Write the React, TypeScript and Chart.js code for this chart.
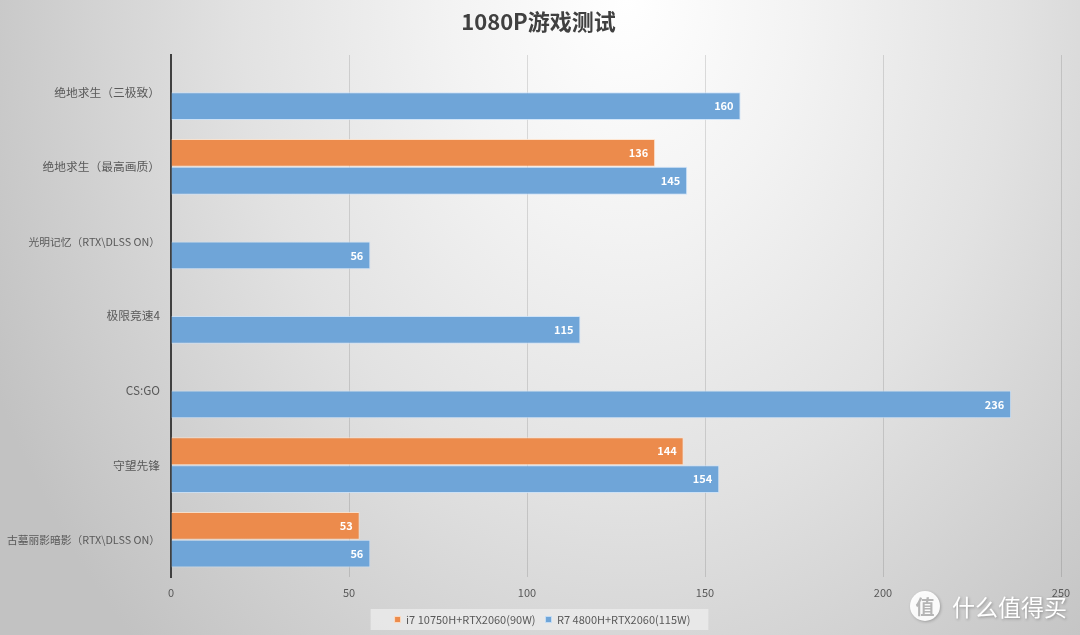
import React, { useEffect, useRef } from 'react';
import { Chart, registerables } from 'chart.js';

Chart.register(...registerables);

const title = '1080P游戏测试';
const categories = [
  '绝地求生（三极致）',
  '绝地求生（最高画质）',
  '光明记忆（RTX\\DLSS ON）',
  '极限竞速4',
  'CS:GO',
  '守望先锋',
  '古墓丽影暗影（RTX\\DLSS ON）',
];
const seriesNames = ['i7 10750H+RTX2060(90W)', 'R7 4800H+RTX2060(115W)'];
const intelValues: (number | null)[] = [null, 136, null, null, null, 144, 53];
const amdValues: (number | null)[] = [160, 145, 56, 115, 236, 154, 56];
const xTickValues = [0, 50, 100, 150, 200, 250];
const watermarkText = '什么值得买';

const FONT = '"Noto Sans CJK SC", "Noto Sans", sans-serif';

const shiftPlugin = {
  id: 'shiftBoxes',
  afterLayout(chart: any) {
    if (chart.titleBlock) {
      chart.titleBlock.left += 16;
    }
    if (chart.legend) {
      chart.legend.left += 12;
      chart.legend.right += 12;
    }
  },
};

const dataLabelPlugin = {
  id: 'dataLabels',
  afterDatasetsDraw(chart: any) {
    const ctx = chart.ctx;
    ctx.save();
    ctx.font = `bold 11px ${FONT}`;
    ctx.fillStyle = '#ffffff';
    ctx.textAlign = 'right';
    ctx.textBaseline = 'middle';
    chart.data.datasets.forEach((ds: any, di: number) => {
      const meta = chart.getDatasetMeta(di);
      meta.data.forEach((bar: any, i: number) => {
        const v = ds.data[i];
        if (v == null) return;
        ctx.fillText(String(v), bar.x - 7, bar.y);
      });
    });
    ctx.restore();
  },
};

const legendBgPlugin = {
  id: 'legendBg',
  beforeDraw(chart: any) {
    const lg = chart.legend;
    if (!lg || !lg.legendHitBoxes || !lg.legendHitBoxes.length) return;
    const hb = lg.legendHitBoxes;
    const first = hb[0];
    const last = hb[hb.length - 1];
    const left = first.left - 24;
    const right = last.left + last.width + 18;
    const cy = first.top + first.height / 2;
    const ctx = chart.ctx;
    ctx.save();
    ctx.fillStyle = 'rgba(240,240,240,0.7)';
    ctx.fillRect(left, cy - 10.5, right - left, 21);
    ctx.restore();
  },
};

const watermarkPlugin = {
  id: 'watermark',
  afterDraw(chart: any) {
    const ctx = chart.ctx;
    ctx.save();
    ctx.shadowColor = 'rgba(0,0,0,0.25)';
    ctx.shadowBlur = 3;
    ctx.shadowOffsetX = 1;
    ctx.shadowOffsetY = 1;
    ctx.fillStyle = 'rgba(255,255,255,0.95)';
    ctx.beginPath();
    ctx.arc(925, 606, 15, 0, Math.PI * 2);
    ctx.fill();
    ctx.shadowColor = 'transparent';
    ctx.fillStyle = '#b5b5b5';
    ctx.font = `bold 19px ${FONT}`;
    ctx.textAlign = 'center';
    ctx.textBaseline = 'middle';
    ctx.fillText('值', 925, 607);
    ctx.shadowColor = 'rgba(0,0,0,0.3)';
    ctx.shadowBlur = 3;
    ctx.fillStyle = '#ffffff';
    ctx.font = `23px ${FONT}`;
    ctx.textAlign = 'left';
    ctx.fillText(watermarkText, 952, 607);
    ctx.restore();
  },
};

export default function App() {
  const ref = useRef<HTMLCanvasElement>(null);
  useEffect(() => {
    if (!ref.current) return;
    const chart = new Chart(ref.current, {
      type: 'bar',
      data: {
        labels: categories,
        datasets: [
          {
            label: seriesNames[0],
            data: intelValues,
            backgroundColor: '#ec8b4c',
            borderColor: 'rgba(255,225,200,0.8)',
            borderWidth: 1,
            categoryPercentage: 0.745,
            barPercentage: 1,
          },
          {
            label: seriesNames[1],
            data: amdValues,
            backgroundColor: '#6fa5d8',
            borderColor: 'rgba(200,225,250,0.8)',
            borderWidth: 1,
            categoryPercentage: 0.745,
            barPercentage: 1,
          },
        ],
      },
      options: {
        indexAxis: 'y',
        animation: false,
        responsive: false,
        layout: { padding: { left: 0, right: 19, top: 0, bottom: 0 } },
        plugins: {
          title: {
            display: true,
            text: title,
            color: '#404040',
            font: { family: FONT, size: 22, weight: 'bold' },
            padding: { top: 8, bottom: 20.6 },
          },
          legend: {
            position: 'bottom',
            labels: {
              color: '#595959',
              font: { family: FONT, size: 11 },
              boxWidth: 6,
              boxHeight: 6,
              padding: 10,
            },
          },
          tooltip: { enabled: false },
        },
        scales: {
          x: {
            min: 0,
            max: 250,
            afterBuildTicks: (s: any) => {
              s.ticks = xTickValues.map((v) => ({ value: v }));
            },
            afterFit: (s: any) => {
              s.height = 27;
            },
            ticks: {
              color: '#595959',
              font: { family: FONT, size: 11 },
              padding: 9,
            },
            grid: { color: 'rgba(0,0,0,0.12)', drawTicks: false },
            border: { display: false },
          },
          y: {
            afterFit: (s: any) => {
              s.width = 171;
            },
            ticks: {
              color: '#595959',
              font: (c: any) => {
                const lbl = categories[c.index] || '';
                return { family: FONT, size: lbl.length > 12 ? 10.75 : 11.75 };
              },
              padding: 11,
            },
            grid: { display: false, drawTicks: false },
            border: { color: '#404040', width: 2 },
          },
        },
      },
      plugins: [shiftPlugin, legendBgPlugin, dataLabelPlugin, watermarkPlugin],
    } as any);
    return () => chart.destroy();
  }, []);

  return (
    <div
      style={{
        position: 'fixed',
        left: 0,
        top: 0,
        width: 1080,
        height: 635,
        background:
          'radial-gradient(700px 900px at 58% 0%, #ffffff 0%, #f3f3f3 25%, #e2e2e2 55%, #d0d0d0 80%, #c2c2c2 100%)',
      }}
    >
      <canvas ref={ref} width={1080} height={635} style={{ width: 1080, height: 635, display: 'block' }} />
    </div>
  );
}
